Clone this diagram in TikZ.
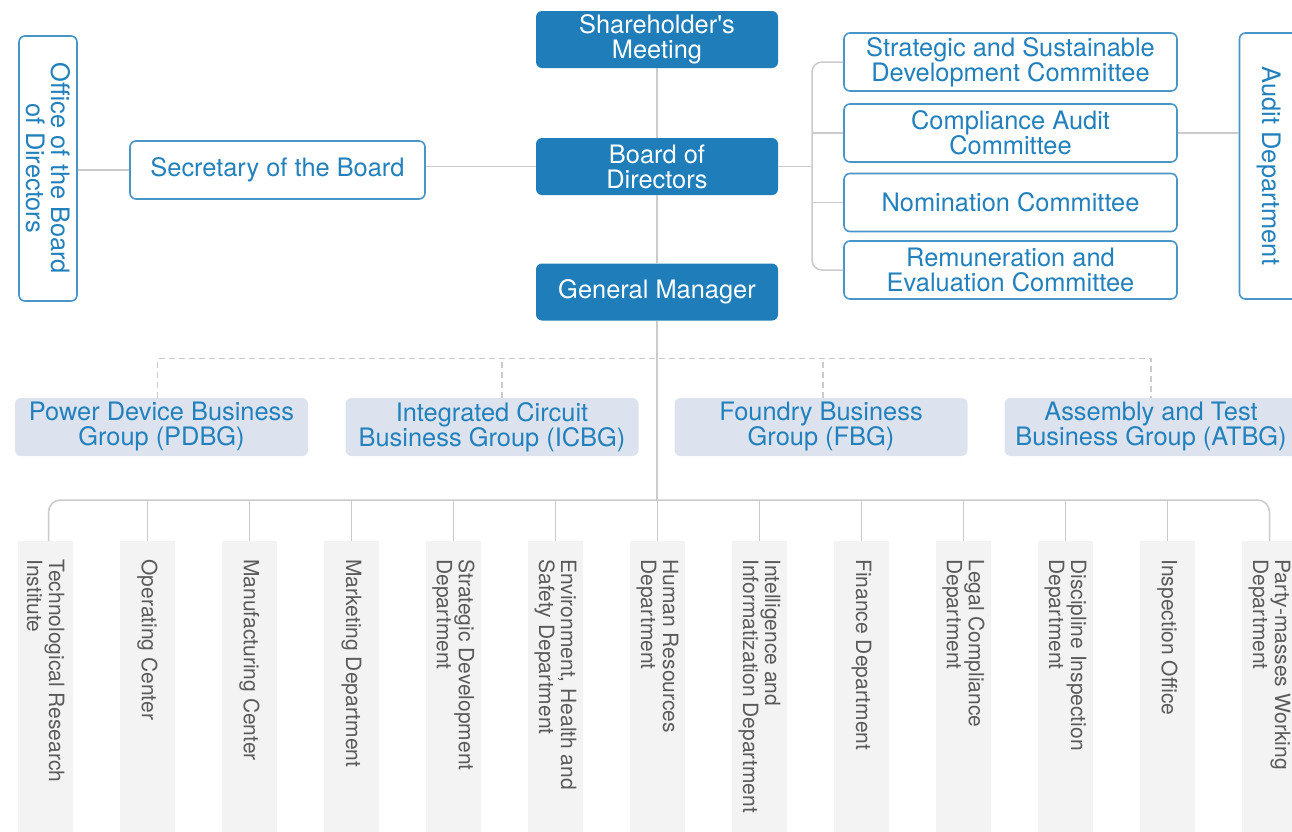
\documentclass[tikz,border=0pt]{standalone}
\usepackage{fontspec}
\setmainfont{TeX Gyre Heros}
\usetikzlibrary{positioning}

\definecolor{cdark}{HTML}{1F7EB9}
\definecolor{cblue}{HTML}{2281BD}
\definecolor{cframe}{HTML}{4A95C8}
\definecolor{cgroup}{HTML}{DCE3EF}
\definecolor{cdept}{HTML}{F3F3F3}
\definecolor{cdepttext}{HTML}{5A5A5A}
\definecolor{cline}{HTML}{CBCBCB}

\newcommand{\boxfont}{\fontsize{12.7}{12.5}\selectfont}
\newcommand{\deptfont}{\fontsize{10.5}{11}\selectfont}

\tikzset{
    conn/.style={draw=cline, line width=0.75pt},
    dashconn/.style={draw=cline, line width=0.7pt, dash pattern=on 3pt off 2pt},
    topbox/.style={fill=cdark, text=white, rounded corners=3pt, inner sep=0pt,
        minimum width=121pt, minimum height=28.5pt, align=center, font=\boxfont},
    bluebox/.style={draw=cframe, line width=0.8pt, fill=white, text=cblue,
        rounded corners=3pt, inner sep=0pt, minimum height=29pt, align=center, font=\boxfont},
    groupbox/.style={fill=cgroup, text=cblue, rounded corners=3pt, inner sep=0pt,
        minimum width=146.5pt, minimum height=29pt, align=center, font=\boxfont},
    deptbox/.style={rotate=-90, anchor=west, fill=cdept, text=cdepttext,
        minimum height=27.5pt, text width=140pt, inner xsep=9pt, inner ysep=0pt,
        align=flush left, font=\deptfont},
}

\begin{document}
\begin{tikzpicture}[x=0.5pt, y=-0.5pt]
    \useasboundingbox[fill=white] (0,0) rectangle (1292,831);

    % main line
    \node[topbox] (share) at (657,39.5) {Shareholder\textquotesingle s\\Meeting};
    \node[topbox] (board) at (657,166.5) {Board of\\Directors};
    \node[topbox] (gm) at (657,292) {General Manager};

    \node[bluebox, minimum width=147.5pt] (secr) at (277.5,170) {Secretary of the Board};
    \node[bluebox, rotate=-90, minimum width=132.5pt] (office) at (48,168.5) {Office of the Board\\of Directors};

    % committees
    \node[bluebox, minimum width=166.5pt] (sdc) at (1010.5,62) {Strategic and Sustainable\\Development Committee};
    \node[bluebox, minimum width=166.5pt] (cac) at (1010.5,133) {Compliance Audit\\Committee};
    \node[bluebox, minimum width=166.5pt] (nom) at (1010.5,202.5) {Nomination Committee};
    \node[bluebox, minimum width=166.5pt] (rec) at (1010.5,270) {Remuneration and\\Evaluation Committee};
    \node[bluebox, rotate=-90, minimum width=133pt] (audit) at (1268.5,166) {Audit Department};

    % business groups
    \node[groupbox] (pdbg) at (161.5,427) {Power Device Business\\Group (PDBG)};
    \node[groupbox] (icbg) at (492,427) {Integrated Circuit\\Business Group (ICBG)};
    \node[groupbox] (fbg) at (821,427) {Foundry Business\\Group (FBG)};
    \node[groupbox] (atbg) at (1151,427) {Assembly and Test\\Business Group (ATBG)};

    % departments
    \foreach \i/\txt in {0/{Technological Research\\Institute}, 1/{Operating Center},
        2/{Manufacturing Center}, 3/{Marketing Department},
        4/{Strategic Development\\Department}, 5/{Environment, Health and\\Safety Department},
        6/{Human Resources\\Department}, 7/{Intelligence and\\Informatization Department},
        8/{Finance Department}, 9/{Legal Compliance\\Department},
        10/{Discipline Inspection\\Department}, 11/{Inspection Office},
        12/{Party-masses Working\\Department}}
        \node[deptbox] (d\i) at (45.5+102*\i,541) {\txt};

    \coordinate (cbus) at (812,166.5);
    \coordinate (dbus) at (657,500);

    \draw[conn] (share) -- (board);
    \draw[conn] (board) -- (gm);
    \draw[conn] (gm) -- (dbus);
    \draw[conn] (board.west) -- (secr.east |- board.west);
    \draw[conn] (secr.west) -- (office.north |- secr.west);
    \draw[conn] (board.east) -- (cbus);
    \draw[conn, rounded corners=5pt] (sdc.west) -| (cbus) |- (rec.west);
    \draw[conn] (cac.west) -- (cac.west -| cbus);
    \draw[conn] (nom.west) -- (nom.west -| cbus);
    \draw[conn] (cac.east) -- (audit.south |- cac.east);

    \draw[dashconn] ([xshift=-2pt]pdbg.north) -- ++(0,-39) -| (atbg.north);
    \draw[dashconn] ([xshift=5pt]icbg.north) -- ++(0,-39);
    \draw[dashconn] ([xshift=1pt]fbg.north) -- ++(0,-39);

    \draw[conn, rounded corners=6pt] ([xshift=1.5pt]d0.west) |- (dbus) -| (d12.west);
    \foreach \i in {1,...,11}
        \draw[conn] (d\i.west) -- (d\i.west |- dbus);
\end{tikzpicture}
\end{document}
